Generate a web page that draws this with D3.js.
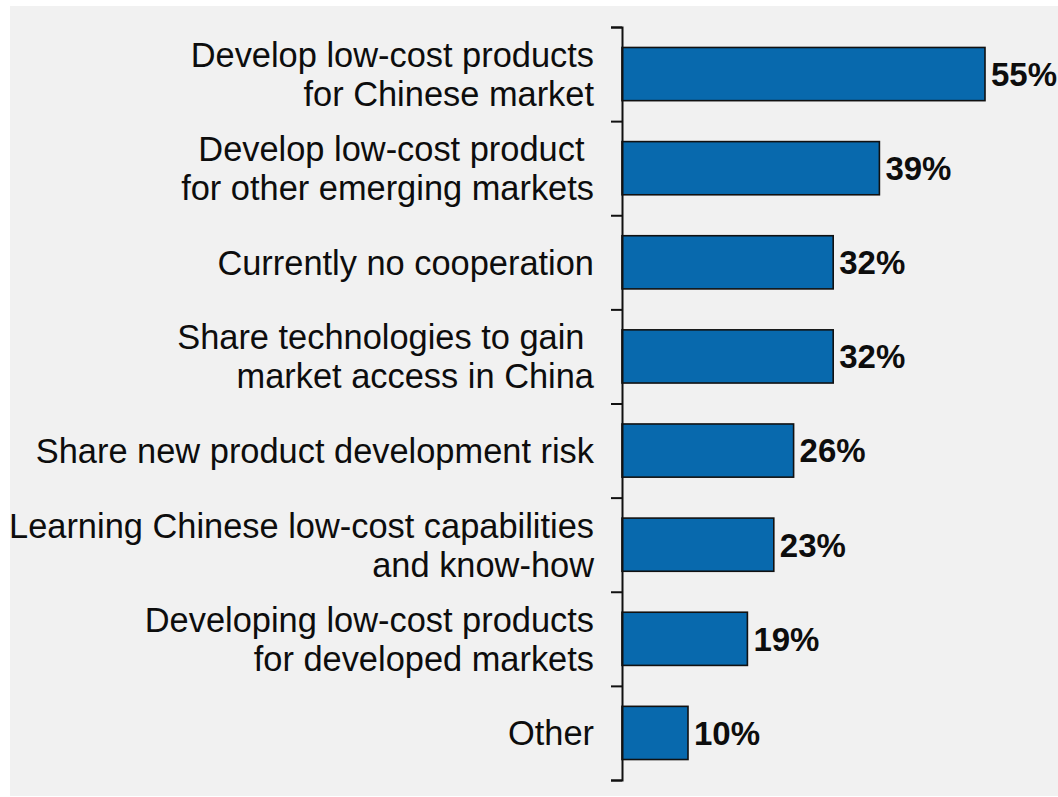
<!DOCTYPE html>
<html>
<head>
<meta charset="utf-8">
<script src="https://cdn.jsdelivr.net/npm/d3@7"></script>
<style>
  html, body { margin: 0; padding: 0; background: #ffffff; }
  svg { display: block; }
  text { font-family: "Liberation Sans", Arial, Helvetica, sans-serif; }
</style>
</head>
<body>
<svg id="chart" width="1058" height="797"></svg>
<script>
// Reasons for cooperating with Chinese partners (share of respondents, %)
const categories = [
  ["Develop low-cost products", "for Chinese market"],
  ["Develop low-cost product ", "for other emerging markets"],
  ["Currently no cooperation"],
  ["Share technologies to gain ", "market access in China"],
  ["Share new product development risk"],
  ["Learning Chinese low-cost capabilities", "and know-how"],
  ["Developing low-cost products", "for developed markets"],
  ["Other"]
];
const values = [55, 39, 32, 32, 26, 23, 19, 10];
const valueLabels = ["55%", "39%", "32%", "32%", "26%", "23%", "19%", "10%"];

const W = 1058, H = 797;
const axisX = 622, plotTop = 27, plotBottom = 780;

const svg = d3.select("#chart");

// light grey panel
svg.append("rect")
  .attr("x", 10).attr("y", 6)
  .attr("width", W - 10).attr("height", H - 7)
  .attr("fill", "#f1f1f1");

const idx = d3.range(categories.length);

const y = d3.scaleBand()
  .domain(idx)
  .range([plotTop, plotBottom])
  .paddingInner(0.435)
  .paddingOuter(0.2175);

const x = d3.scaleLinear()
  .domain([0, 55])
  .range([axisX, 985]);

// bars
svg.append("g").selectAll("rect")
  .data(idx)
  .join("rect")
  .attr("x", x(0))
  .attr("y", i => y(i))
  .attr("width", i => x(values[i]) - x(0))
  .attr("height", y.bandwidth())
  .attr("fill", "#0869ad")
  .attr("stroke", "#111")
  .attr("stroke-width", 1.6);

// value labels
svg.append("g").selectAll("text")
  .data(idx)
  .join("text")
  .attr("x", i => x(values[i]) + 6)
  .attr("y", i => y(i) + y.bandwidth() / 2)
  .attr("dy", "0.36em")
  .attr("font-size", 33)
  .attr("font-weight", "bold")
  .attr("fill", "#0d0d0d")
  .text(i => valueLabels[i]);

// category labels (one or two lines, right aligned)
const lineGap = 39;
const labels = svg.append("g").selectAll("text")
  .data(idx)
  .join("text")
  .attr("text-anchor", "end")
  .attr("font-size", 34.4)
  .attr("fill", "#0d0d0d")
  .style("white-space", "pre");

labels.each(function(i) {
  const lines = categories[i];
  const cy = y(i) + y.bandwidth() / 2;
  const t = d3.select(this);
  lines.forEach((ln, k) => {
    t.append("tspan")
      .attr("x", 594)
      .attr("y", cy + (k - (lines.length - 1) / 2) * lineGap)
      .attr("dy", "0.36em")
      .text(ln);
  });
});

// category axis: brackets at band boundaries
const yTicks = d3.scaleLinear().domain([0, categories.length]).range([plotTop, plotBottom]);
const axis = svg.append("g")
  .attr("transform", `translate(${axisX},0)`)
  .call(d3.axisLeft(yTicks)
    .ticks(categories.length)
    .tickSize(11)
    .tickSizeOuter(11)
    .tickFormat(""));
axis.selectAll("path, line").attr("stroke", "#111").attr("stroke-width", 2);
</script>
</body>
</html>
